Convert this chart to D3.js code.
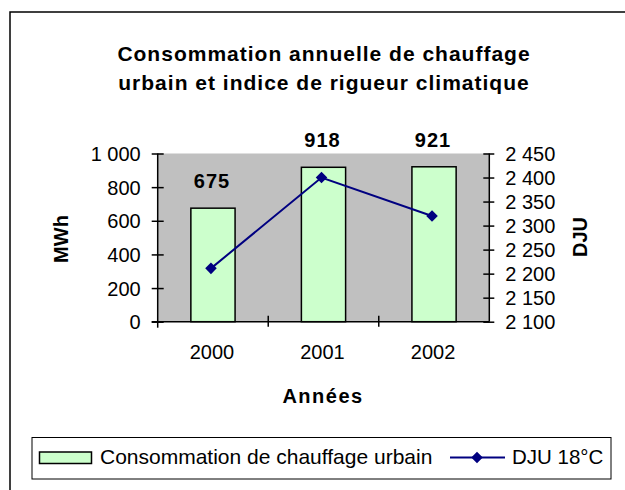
<!DOCTYPE html>
<html>
<head>
<meta charset="utf-8">
<script src="https://cdn.jsdelivr.net/npm/d3@7"></script>
<style>
  body { margin: 0; background: #fff; }
  text { font-family: "Liberation Sans", Arial, sans-serif; fill: #000; }
</style>
</head>
<body>
<div id="chart"></div>
<script>
const width = 625;
const height = 490;

// Données
const annees = ["2000", "2001", "2002"];
const consommation = [675, 918, 921];
const dju = [2211, 2400, 2320];
const ticksMWh = [0, 200, 400, 600, 800, 1000];
const ticksDJU = [2100, 2150, 2200, 2250, 2300, 2350, 2400, 2450];

const fr = d3.formatLocale({ decimal: ",", thousands: " ", grouping: [3], currency: ["", " €"] });
const fmt = fr.format(",d");

const svg = d3.select("#chart")
  .append("svg")
  .attr("width", width)
  .attr("height", height);

// Cadre du graphique
svg.append("rect")
  .attr("x", 10).attr("y", 12)
  .attr("width", 640).attr("height", 500)
  .attr("fill", "#fff")
  .attr("stroke", "#000")
  .attr("stroke-width", 1.5);

// Zone de tracé
const pLeft = 157.7, pRight = 489.3, pTop = 153.5, pBottom = 321.7;

const x = d3.scaleBand().domain(annees).range([pLeft, pRight]);
const y = d3.scaleLinear().domain([0, 1000]).range([pBottom, pTop]);
const y2 = d3.scaleLinear().domain([2100, 2450]).range([pBottom, pTop]);

svg.append("rect")
  .attr("x", pLeft).attr("y", pTop)
  .attr("width", pRight - pLeft).attr("height", pBottom - pTop)
  .attr("fill", "#c0c0c0");

// Titre
const titre = svg.append("text")
  .attr("text-anchor", "middle")
  .style("font-size", "21px")
  .style("font-weight", "bold")
  .style("letter-spacing", "1px");
titre.append("tspan").attr("x", 324).attr("y", 61).text("Consommation annuelle de chauffage");
titre.append("tspan").attr("x", 324).attr("y", 90).text("urbain et indice de rigueur climatique");

// Barres
const barW = x.bandwidth() * 0.4;
svg.selectAll(".bar")
  .data(consommation)
  .enter()
  .append("rect")
  .attr("class", "bar")
  .attr("x", (d, i) => x(annees[i]) + (x.bandwidth() - barW) / 2)
  .attr("y", d => y(d))
  .attr("width", barW)
  .attr("height", d => pBottom - y(d))
  .attr("fill", "#ccffcc")
  .attr("stroke", "#000")
  .attr("stroke-width", 1.5);

// Etiquettes des barres
svg.selectAll(".lbl")
  .data(consommation)
  .enter()
  .append("text")
  .attr("class", "lbl")
  .attr("x", (d, i) => x(annees[i]) + x.bandwidth() / 2 - 1)
  .attr("y", d => y(d) - 20)
  .attr("text-anchor", "middle")
  .style("font-size", "20px")
  .style("font-weight", "bold")
  .style("letter-spacing", "1px")
  .text(d => d);

// Axe gauche
const axeG = svg.append("g")
  .attr("transform", `translate(${pLeft},0)`)
  .call(d3.axisLeft(y).tickValues(ticksMWh).tickFormat(fmt).tickSizeInner(6).tickSizeOuter(0).tickPadding(11));
axeG.selectAll(".tick line").attr("x2", 6).attr("x1", -6).attr("stroke-width", 1.5);
axeG.select(".domain").attr("stroke-width", 1.5).attr("d", `M0,${pTop}V${pBottom + 6}`);
axeG.selectAll("text").style("font-size", "20px").style("font-family", "Liberation Sans, Arial, sans-serif").attr("dy", "0.35em");

// Axe droit
const axeD = svg.append("g")
  .attr("transform", `translate(${pRight},0)`)
  .call(d3.axisRight(y2).tickValues(ticksDJU).tickFormat(fmt).tickSizeInner(6).tickSizeOuter(0).tickPadding(10));
axeD.selectAll(".tick line").attr("x1", -6).attr("x2", 5).attr("stroke-width", 1.5);
axeD.select(".domain").attr("stroke-width", 1.5).attr("d", `M0,${pTop}V${pBottom}`);
axeD.selectAll("text").style("font-size", "20px").style("font-family", "Liberation Sans, Arial, sans-serif").attr("dy", "0.35em");

// Axe des années
svg.append("line")
  .attr("x1", pLeft - 6).attr("x2", pRight)
  .attr("y1", pBottom).attr("y2", pBottom)
  .attr("stroke", "#000").attr("stroke-width", 1.5);
svg.selectAll(".xtick")
  .data(annees.slice(1))
  .enter()
  .append("line")
  .attr("x1", d => x(d)).attr("x2", d => x(d))
  .attr("y1", pBottom - 6).attr("y2", pBottom + 5)
  .attr("stroke", "#000").attr("stroke-width", 1.5);
svg.selectAll(".xlbl")
  .data(annees)
  .enter()
  .append("text")
  .attr("x", d => x(d) + x.bandwidth() / 2 - 1)
  .attr("y", 359)
  .attr("text-anchor", "middle")
  .style("font-size", "20px")
  .text(d => d);

// Titres des axes
svg.append("text")
  .attr("x", 323).attr("y", 403)
  .attr("text-anchor", "middle")
  .style("font-size", "20px").style("font-weight", "bold").style("letter-spacing", "1.5px")
  .text("Années");
svg.append("text")
  .attr("transform", "translate(68,239) rotate(-90)")
  .attr("text-anchor", "middle")
  .style("font-size", "20px").style("font-weight", "bold")
  .text("MWh");
svg.append("text")
  .attr("transform", "translate(587,237) rotate(-90)")
  .attr("text-anchor", "middle")
  .style("font-size", "20px").style("font-weight", "bold")
  .text("DJU");

// Courbe DJU
const ligne = d3.line()
  .x((d, i) => x(annees[i]) + x.bandwidth() / 2 - 2)
  .y(d => y2(d));
svg.append("path")
  .datum(dju)
  .attr("d", ligne)
  .attr("fill", "none")
  .attr("stroke", "#000080")
  .attr("stroke-width", 2);
const losange = d3.symbol().type(d3.symbolDiamond2).size(85);
svg.selectAll(".pt")
  .data(dju)
  .enter()
  .append("path")
  .attr("transform", (d, i) => `translate(${x(annees[i]) + x.bandwidth() / 2 - 2},${y2(d)})`)
  .attr("d", losange)
  .attr("fill", "#000080");

// Légende
const leg = svg.append("g");
leg.append("rect")
  .attr("x", 32).attr("y", 437.5)
  .attr("width", 579).attr("height", 41.5)
  .attr("fill", "#fff").attr("stroke", "#000").attr("stroke-width", 1);
leg.append("rect")
  .attr("x", 39.5).attr("y", 452)
  .attr("width", 52).attr("height", 11.5)
  .attr("fill", "#ccffcc").attr("stroke", "#000").attr("stroke-width", 1.5);
leg.append("text")
  .attr("x", 100).attr("y", 464)
  .style("font-size", "21px")
  .text("Consommation de chauffage urbain");
leg.append("line")
  .attr("x1", 450).attr("x2", 505)
  .attr("y1", 457.5).attr("y2", 457.5)
  .attr("stroke", "#000080").attr("stroke-width", 2);
leg.append("path")
  .attr("transform", "translate(477,457.5)")
  .attr("d", losange)
  .attr("fill", "#000080");
leg.append("text")
  .attr("x", 512).attr("y", 464)
  .style("font-size", "20.5px")
  .text("DJU 18°C");
</script>
</body>
</html>
